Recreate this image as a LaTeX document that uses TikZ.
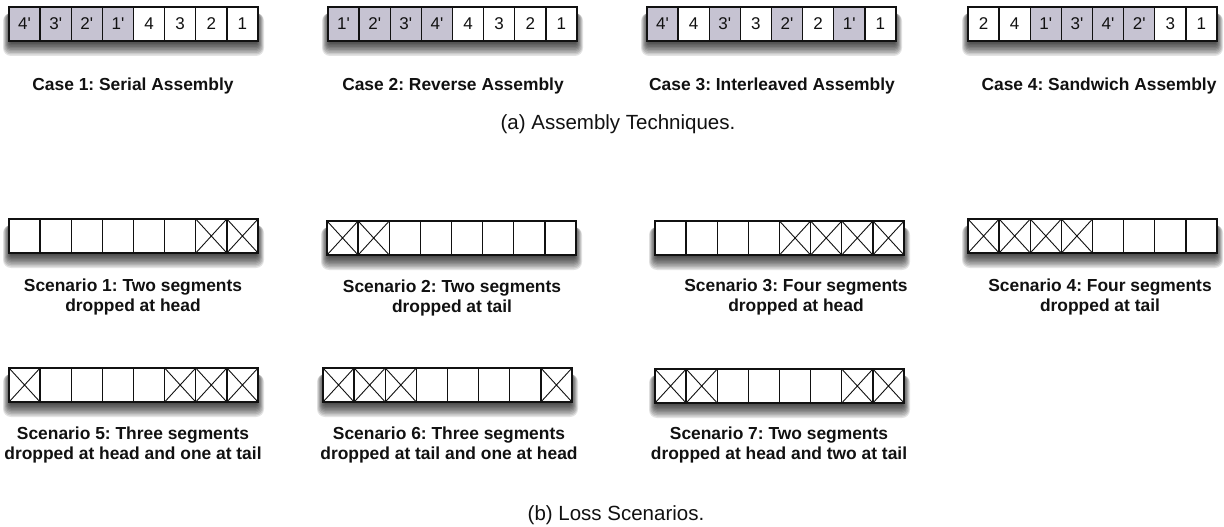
\documentclass[tikz,border=0pt]{standalone}
\usepackage{fontspec}
\setsansfont{Liberation Sans}
\definecolor{bg}{HTML}{FFFFFF}
\definecolor{dup}{HTML}{C6C3D2}
\definecolor{ink}{HTML}{111111}
\newcommand{\pr}{\textquotesingle}

% one bar of eight segments: name, left x, top y, list of label/style
\newcommand{\segbar}[4]{%
  % soft drop shadow under the bar
  \foreach \k in {1,...,10}
    \fill[black,opacity=0.11,rounded corners=0.8*\k]
      ({#2+2-0.8*\k},{#3+6}) rectangle ({#2+247+0.8*\k},{#3+34+1.5*\k});
  \node[bar,anchor=north west] (#1) at (#2,#3) {};
  \foreach \lab/\sty [count=\i] in {#4}
    \node[seg,\sty] (#1-\i) at ({#2+(\i-0.5)*31.125},{#3+17}) {\lab};
  \draw[ink,line width=1.6pt] (#1.north west) rectangle (#1.south east);
}

\begin{document}
\frenchspacing
\begin{tikzpicture}[x=1pt,y=-1pt,font=\sffamily,
  bar/.style={draw=none,fill=white,inner sep=0pt,minimum width=249pt,minimum height=34pt},
  seg/.style={draw=ink,line width=1.4pt,fill=white,inner sep=0pt,minimum width=31.125pt,minimum height=34pt,
    text=ink,font=\sffamily\fontsize{17}{19}\selectfont},
  segalt/.style={fill=dup},
  segok/.style={},
  seglost/.style={path picture={\draw[ink,line width=0.9pt]
    (path picture bounding box.north west) -- (path picture bounding box.south east)
    (path picture bounding box.north east) -- (path picture bounding box.south west);}},
  barcap/.style={font=\sffamily\bfseries\fontsize{17.4}{20}\selectfont,text=ink,align=center},
  subcap/.style={font=\sffamily\fontsize{20.5}{23}\selectfont,text=ink}]
  \fill[bg] (0,0) rectangle (1224,527);
  \useasboundingbox (0,0) rectangle (1224,527);

  % ===== (a) assembly techniques =====
  \segbar{case1}{9}{7}{4\pr/segalt,3\pr/segalt,2\pr/segalt,1\pr/segalt,4/segok,3/segok,2/segok,1/segok}
  \segbar{case2}{328}{7}{1\pr/segalt,2\pr/segalt,3\pr/segalt,4\pr/segalt,4/segok,3/segok,2/segok,1/segok}
  \segbar{case3}{647}{7}{4\pr/segalt,4/segok,3\pr/segalt,3/segok,2\pr/segalt,2/segok,1\pr/segalt,1/segok}
  \segbar{case4}{968}{7}{2/segok,4/segok,1\pr/segalt,3\pr/segalt,4\pr/segalt,2\pr/segalt,3/segok,1/segok}
  \node[barcap] (cap1) at (133,86) {Case 1: Serial Assembly};
  \node[barcap] (cap2) at (453,86) {Case 2: Reverse Assembly};
  \node[barcap] (cap3) at (772,86) {Case 3: Interleaved Assembly};
  \node[barcap] (cap4) at (1099,86) {Case 4: Sandwich Assembly};
  \node[subcap] (suba) at (618,124) {(a) Assembly Techniques.};

  % ===== (b) loss scenarios =====
  \segbar{sc1}{9}{219}{/segok,/segok,/segok,/segok,/segok,/segok,/seglost,/seglost}
  \segbar{sc2}{327}{221}{/seglost,/seglost,/segok,/segok,/segok,/segok,/segok,/segok}
  \segbar{sc3}{655}{221}{/segok,/segok,/segok,/segok,/seglost,/seglost,/seglost,/seglost}
  \segbar{sc4}{968}{219}{/seglost,/seglost,/seglost,/seglost,/segok,/segok,/segok,/segok}
  \segbar{sc5}{9}{368}{/seglost,/segok,/segok,/segok,/segok,/seglost,/seglost,/seglost}
  \segbar{sc6}{323}{368}{/seglost,/seglost,/seglost,/segok,/segok,/segok,/segok,/seglost}
  \segbar{sc7}{655}{369}{/seglost,/seglost,/segok,/segok,/segok,/segok,/seglost,/seglost}
  \node[barcap] (scap1) at (133,297) {Scenario 1: Two segments\\dropped at head};
  \node[barcap] (scap2) at (452,298) {Scenario 2: Two segments\\dropped at tail};
  \node[barcap] (scap3) at (796,297) {Scenario 3: Four segments\\dropped at head};
  \node[barcap] (scap4) at (1100,297) {Scenario 4: Four segments\\dropped at tail};
  \node[barcap] (scap5) at (133,445) {Scenario 5: Three segments\\dropped at head and one at tail};
  \node[barcap] (scap6) at (449,445) {Scenario 6: Three segments\\dropped at tail and one at head};
  \node[barcap] (scap7) at (779,445) {Scenario 7: Two segments\\dropped at head and two at tail};
  \node[subcap] (subb) at (616,515) {(b) Loss Scenarios.};
\end{tikzpicture}
\end{document}
